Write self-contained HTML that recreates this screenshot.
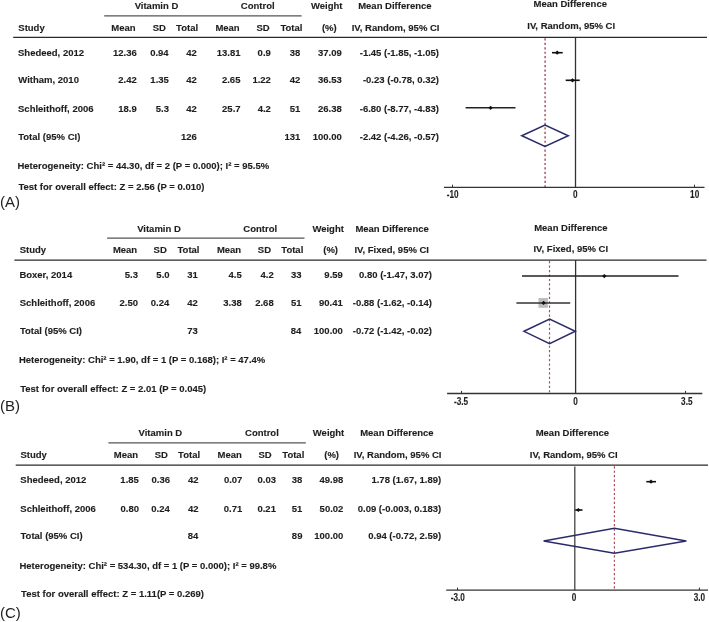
<!DOCTYPE html>
<html><head><meta charset="utf-8"><style>
html,body{margin:0;padding:0;background:#fff;}
body{width:709px;height:622px;overflow:hidden;}
svg{display:block;font-family:"Liberation Sans",sans-serif;will-change:transform;}
text{stroke:currentColor;}
</style></head><body>
<svg width="709" height="622" viewBox="0 0 709 622">
<rect width="709" height="622" fill="#fff"/>
<text x="134.65" y="9.40" text-anchor="start" font-size="9.5" font-weight="bold" fill="#1e1e1e" style="color:#1e1e1e" stroke-width="0.12">Vitamin D</text>
<text x="240.82" y="9.40" text-anchor="start" font-size="9.5" font-weight="bold" fill="#1e1e1e" style="color:#1e1e1e" stroke-width="0.12">Control</text>
<text x="311.00" y="9.40" text-anchor="start" font-size="9.5" font-weight="bold" fill="#1e1e1e" style="color:#1e1e1e" stroke-width="0.12">Weight</text>
<text x="358.18" y="9.40" text-anchor="start" font-size="9.5" font-weight="bold" fill="#1e1e1e" style="color:#1e1e1e" stroke-width="0.12">Mean Difference</text>
<text x="533.58" y="7.10" text-anchor="start" font-size="9.5" font-weight="bold" fill="#1e1e1e" style="color:#1e1e1e" stroke-width="0.12">Mean Difference</text>
<text x="18.32" y="30.70" text-anchor="start" font-size="9.5" font-weight="bold" fill="#1e1e1e" style="color:#1e1e1e" stroke-width="0.12">Study</text>
<text x="111.28" y="30.70" text-anchor="start" font-size="9.5" font-weight="bold" fill="#1e1e1e" style="color:#1e1e1e" stroke-width="0.12">Mean</text>
<text x="152.72" y="30.70" text-anchor="start" font-size="9.5" font-weight="bold" fill="#1e1e1e" style="color:#1e1e1e" stroke-width="0.12">SD</text>
<text x="176.10" y="30.70" text-anchor="start" font-size="9.5" font-weight="bold" fill="#1e1e1e" style="color:#1e1e1e" stroke-width="0.12">Total</text>
<text x="215.38" y="30.70" text-anchor="start" font-size="9.5" font-weight="bold" fill="#1e1e1e" style="color:#1e1e1e" stroke-width="0.12">Mean</text>
<text x="256.51" y="30.70" text-anchor="start" font-size="9.5" font-weight="bold" fill="#1e1e1e" style="color:#1e1e1e" stroke-width="0.12">SD</text>
<text x="280.40" y="30.70" text-anchor="start" font-size="9.5" font-weight="bold" fill="#1e1e1e" style="color:#1e1e1e" stroke-width="0.12">Total</text>
<text x="321.92" y="30.70" text-anchor="start" font-size="9.5" font-weight="bold" fill="#1e1e1e" style="color:#1e1e1e" stroke-width="0.12">(%)</text>
<text x="351.68" y="30.70" text-anchor="start" font-size="9.5" font-weight="bold" fill="#1e1e1e" style="color:#1e1e1e" stroke-width="0.12">IV, Random, 95% CI</text>
<text x="527.28" y="29.30" text-anchor="start" font-size="9.5" font-weight="bold" fill="#1e1e1e" style="color:#1e1e1e" stroke-width="0.12">IV, Random, 95% CI</text>
<line x1="104.2" y1="15.9" x2="301.6" y2="15.9" stroke="#555" stroke-width="1.2"/>
<line x1="13.2" y1="37.3" x2="707.0" y2="37.3" stroke="#2a2a2a" stroke-width="1.3"/>
<text x="18.02" y="55.50" text-anchor="start" font-size="9.5" font-weight="bold" fill="#1e1e1e" style="color:#1e1e1e" stroke-width="0.12">Shedeed, 2012</text>
<text x="136.76" y="55.50" text-anchor="end" font-size="9.5" font-weight="bold" fill="#1e1e1e" style="color:#1e1e1e" stroke-width="0.12">12.36</text>
<text x="168.66" y="55.50" text-anchor="end" font-size="9.5" font-weight="bold" fill="#1e1e1e" style="color:#1e1e1e" stroke-width="0.12">0.94</text>
<text x="196.80" y="55.50" text-anchor="end" font-size="9.5" font-weight="bold" fill="#1e1e1e" style="color:#1e1e1e" stroke-width="0.12">42</text>
<text x="240.46" y="55.50" text-anchor="end" font-size="9.5" font-weight="bold" fill="#1e1e1e" style="color:#1e1e1e" stroke-width="0.12">13.81</text>
<text x="270.83" y="55.50" text-anchor="end" font-size="9.5" font-weight="bold" fill="#1e1e1e" style="color:#1e1e1e" stroke-width="0.12">0.9</text>
<text x="300.31" y="55.50" text-anchor="end" font-size="9.5" font-weight="bold" fill="#1e1e1e" style="color:#1e1e1e" stroke-width="0.12">38</text>
<text x="341.76" y="55.50" text-anchor="end" font-size="9.5" font-weight="bold" fill="#1e1e1e" style="color:#1e1e1e" stroke-width="0.12">37.09</text>
<text x="438.95" y="55.50" text-anchor="end" font-size="9.5" font-weight="bold" fill="#1e1e1e" style="color:#1e1e1e" stroke-width="0.12">-1.45 (-1.85, -1.05)</text>
<text x="18.30" y="83.30" text-anchor="start" font-size="9.5" font-weight="bold" fill="#1e1e1e" style="color:#1e1e1e" stroke-width="0.12">Witham, 2010</text>
<text x="136.79" y="83.30" text-anchor="end" font-size="9.5" font-weight="bold" fill="#1e1e1e" style="color:#1e1e1e" stroke-width="0.12">2.42</text>
<text x="168.85" y="83.30" text-anchor="end" font-size="9.5" font-weight="bold" fill="#1e1e1e" style="color:#1e1e1e" stroke-width="0.12">1.35</text>
<text x="196.80" y="83.30" text-anchor="end" font-size="9.5" font-weight="bold" fill="#1e1e1e" style="color:#1e1e1e" stroke-width="0.12">42</text>
<text x="240.45" y="83.30" text-anchor="end" font-size="9.5" font-weight="bold" fill="#1e1e1e" style="color:#1e1e1e" stroke-width="0.12">2.65</text>
<text x="270.89" y="83.30" text-anchor="end" font-size="9.5" font-weight="bold" fill="#1e1e1e" style="color:#1e1e1e" stroke-width="0.12">1.22</text>
<text x="300.40" y="83.30" text-anchor="end" font-size="9.5" font-weight="bold" fill="#1e1e1e" style="color:#1e1e1e" stroke-width="0.12">42</text>
<text x="341.76" y="83.30" text-anchor="end" font-size="9.5" font-weight="bold" fill="#1e1e1e" style="color:#1e1e1e" stroke-width="0.12">36.53</text>
<text x="438.97" y="83.30" text-anchor="end" font-size="9.5" font-weight="bold" fill="#1e1e1e" style="color:#1e1e1e" stroke-width="0.12">-0.23 (-0.78, 0.32)</text>
<text x="18.02" y="111.70" text-anchor="start" font-size="9.5" font-weight="bold" fill="#1e1e1e" style="color:#1e1e1e" stroke-width="0.12">Schleithoff, 2006</text>
<text x="136.75" y="111.70" text-anchor="end" font-size="9.5" font-weight="bold" fill="#1e1e1e" style="color:#1e1e1e" stroke-width="0.12">18.9</text>
<text x="168.93" y="111.70" text-anchor="end" font-size="9.5" font-weight="bold" fill="#1e1e1e" style="color:#1e1e1e" stroke-width="0.12">5.3</text>
<text x="196.80" y="111.70" text-anchor="end" font-size="9.5" font-weight="bold" fill="#1e1e1e" style="color:#1e1e1e" stroke-width="0.12">42</text>
<text x="240.59" y="111.70" text-anchor="end" font-size="9.5" font-weight="bold" fill="#1e1e1e" style="color:#1e1e1e" stroke-width="0.12">25.7</text>
<text x="270.88" y="111.70" text-anchor="end" font-size="9.5" font-weight="bold" fill="#1e1e1e" style="color:#1e1e1e" stroke-width="0.12">4.2</text>
<text x="300.26" y="111.70" text-anchor="end" font-size="9.5" font-weight="bold" fill="#1e1e1e" style="color:#1e1e1e" stroke-width="0.12">51</text>
<text x="341.71" y="111.70" text-anchor="end" font-size="9.5" font-weight="bold" fill="#1e1e1e" style="color:#1e1e1e" stroke-width="0.12">26.38</text>
<text x="438.95" y="111.70" text-anchor="end" font-size="9.5" font-weight="bold" fill="#1e1e1e" style="color:#1e1e1e" stroke-width="0.12">-6.80 (-8.77, -4.83)</text>
<text x="18.21" y="140.20" text-anchor="start" font-size="9.5" font-weight="bold" fill="#1e1e1e" style="color:#1e1e1e" stroke-width="0.12">Total (95% CI)</text>
<text x="196.77" y="140.20" text-anchor="end" font-size="9.5" font-weight="bold" fill="#1e1e1e" style="color:#1e1e1e" stroke-width="0.12">126</text>
<text x="300.27" y="140.20" text-anchor="end" font-size="9.5" font-weight="bold" fill="#1e1e1e" style="color:#1e1e1e" stroke-width="0.12">131</text>
<text x="341.77" y="140.20" text-anchor="end" font-size="9.5" font-weight="bold" fill="#1e1e1e" style="color:#1e1e1e" stroke-width="0.12">100.00</text>
<text x="438.95" y="140.20" text-anchor="end" font-size="9.5" font-weight="bold" fill="#1e1e1e" style="color:#1e1e1e" stroke-width="0.12">-2.42 (-4.26, -0.57)</text>
<text x="17.48" y="168.60" text-anchor="start" font-size="9.5" font-weight="bold" fill="#1e1e1e" style="color:#1e1e1e" stroke-width="0.12">Heterogeneity: Chi² = 44.30, df = 2 (P = 0.000); I² = 95.5%</text>
<text x="18.41" y="189.90" text-anchor="start" font-size="9.5" font-weight="bold" fill="#1e1e1e" style="color:#1e1e1e" stroke-width="0.12">Test for overall effect: Z = 2.56 (P = 0.010)</text>
<text x="0.10" y="206.60" text-anchor="start" font-size="15" font-weight="normal" fill="#222" style="color:#222" stroke-width="0">(A)</text>
<line x1="575.5" y1="37.3" x2="575.5" y2="187.3" stroke="#333" stroke-width="1.3"/>
<line x1="545.1" y1="38.3" x2="545.1" y2="187.3" stroke="#a24c5c" stroke-width="1.4" stroke-dasharray="2.2,2.25"/>
<line x1="443.9" y1="187.3" x2="704.5" y2="187.3" stroke="#333" stroke-width="1.3"/>
<line x1="452.5" y1="187.3" x2="452.5" y2="184.70000000000002" stroke="#333" stroke-width="1"/>
<line x1="694.5" y1="187.3" x2="694.5" y2="184.70000000000002" stroke="#333" stroke-width="1"/>
<text transform="translate(446.67,198.30) scale(0.82,1)" text-anchor="start" font-size="10" font-weight="bold" fill="#1e1e1e" style="color:#1e1e1e" stroke-width="0.12">-10</text>
<text transform="translate(573.07,198.30) scale(0.82,1)" text-anchor="start" font-size="10" font-weight="bold" fill="#1e1e1e" style="color:#1e1e1e" stroke-width="0.12">0</text>
<text transform="translate(690.11,198.30) scale(0.82,1)" text-anchor="start" font-size="10" font-weight="bold" fill="#1e1e1e" style="color:#1e1e1e" stroke-width="0.12">10</text>
<line x1="552.0" y1="52.7" x2="562.7" y2="52.7" stroke="#111" stroke-width="1.6"/>
<polygon points="555.0,52.7 557.2,50.6 559.4000000000001,52.7 557.2,54.800000000000004" fill="#111"/>
<line x1="565.7" y1="80.3" x2="579.7" y2="80.3" stroke="#111" stroke-width="1.6"/>
<polygon points="570.3,80.3 572.5,78.2 574.7,80.3 572.5,82.39999999999999" fill="#111"/>
<line x1="465.6" y1="107.8" x2="515.5" y2="107.8" stroke="#222" stroke-width="1.5"/>
<polygon points="488.40000000000003,107.8 490.6,105.7 492.8,107.8 490.6,109.89999999999999" fill="#111"/>
<polygon points="521.8,135.8 545.0,125.1 568.3,135.8 545.0,146.4" fill="none" stroke="#2b2b6b" stroke-width="1.5"/>
<text x="137.15" y="231.50" text-anchor="start" font-size="9.5" font-weight="bold" fill="#1e1e1e" style="color:#1e1e1e" stroke-width="0.12">Vitamin D</text>
<text x="243.32" y="231.50" text-anchor="start" font-size="9.5" font-weight="bold" fill="#1e1e1e" style="color:#1e1e1e" stroke-width="0.12">Control</text>
<text x="312.40" y="231.50" text-anchor="start" font-size="9.5" font-weight="bold" fill="#1e1e1e" style="color:#1e1e1e" stroke-width="0.12">Weight</text>
<text x="355.38" y="231.50" text-anchor="start" font-size="9.5" font-weight="bold" fill="#1e1e1e" style="color:#1e1e1e" stroke-width="0.12">Mean Difference</text>
<text x="534.18" y="230.60" text-anchor="start" font-size="9.5" font-weight="bold" fill="#1e1e1e" style="color:#1e1e1e" stroke-width="0.12">Mean Difference</text>
<text x="19.71" y="253.30" text-anchor="start" font-size="9.5" font-weight="bold" fill="#1e1e1e" style="color:#1e1e1e" stroke-width="0.12">Study</text>
<text x="112.88" y="253.30" text-anchor="start" font-size="9.5" font-weight="bold" fill="#1e1e1e" style="color:#1e1e1e" stroke-width="0.12">Mean</text>
<text x="153.62" y="253.30" text-anchor="start" font-size="9.5" font-weight="bold" fill="#1e1e1e" style="color:#1e1e1e" stroke-width="0.12">SD</text>
<text x="177.50" y="253.30" text-anchor="start" font-size="9.5" font-weight="bold" fill="#1e1e1e" style="color:#1e1e1e" stroke-width="0.12">Total</text>
<text x="216.88" y="253.30" text-anchor="start" font-size="9.5" font-weight="bold" fill="#1e1e1e" style="color:#1e1e1e" stroke-width="0.12">Mean</text>
<text x="257.81" y="253.30" text-anchor="start" font-size="9.5" font-weight="bold" fill="#1e1e1e" style="color:#1e1e1e" stroke-width="0.12">SD</text>
<text x="281.30" y="253.30" text-anchor="start" font-size="9.5" font-weight="bold" fill="#1e1e1e" style="color:#1e1e1e" stroke-width="0.12">Total</text>
<text x="323.22" y="253.30" text-anchor="start" font-size="9.5" font-weight="bold" fill="#1e1e1e" style="color:#1e1e1e" stroke-width="0.12">(%)</text>
<text x="354.38" y="253.30" text-anchor="start" font-size="9.5" font-weight="bold" fill="#1e1e1e" style="color:#1e1e1e" stroke-width="0.12">IV, Fixed, 95% CI</text>
<text x="533.48" y="252.40" text-anchor="start" font-size="9.5" font-weight="bold" fill="#1e1e1e" style="color:#1e1e1e" stroke-width="0.12">IV, Fixed, 95% CI</text>
<line x1="107.1" y1="238.1" x2="304.5" y2="238.1" stroke="#555" stroke-width="1.2"/>
<line x1="14.4" y1="260.1" x2="706.5" y2="260.1" stroke="#2a2a2a" stroke-width="1.3"/>
<text x="19.38" y="277.70" text-anchor="start" font-size="9.5" font-weight="bold" fill="#1e1e1e" style="color:#1e1e1e" stroke-width="0.12">Boxer, 2014</text>
<text x="137.93" y="277.70" text-anchor="end" font-size="9.5" font-weight="bold" fill="#1e1e1e" style="color:#1e1e1e" stroke-width="0.12">5.3</text>
<text x="169.58" y="277.70" text-anchor="end" font-size="9.5" font-weight="bold" fill="#1e1e1e" style="color:#1e1e1e" stroke-width="0.12">5.0</text>
<text x="197.76" y="277.70" text-anchor="end" font-size="9.5" font-weight="bold" fill="#1e1e1e" style="color:#1e1e1e" stroke-width="0.12">31</text>
<text x="241.74" y="277.70" text-anchor="end" font-size="9.5" font-weight="bold" fill="#1e1e1e" style="color:#1e1e1e" stroke-width="0.12">4.5</text>
<text x="273.78" y="277.70" text-anchor="end" font-size="9.5" font-weight="bold" fill="#1e1e1e" style="color:#1e1e1e" stroke-width="0.12">4.2</text>
<text x="301.65" y="277.70" text-anchor="end" font-size="9.5" font-weight="bold" fill="#1e1e1e" style="color:#1e1e1e" stroke-width="0.12">33</text>
<text x="342.85" y="277.70" text-anchor="end" font-size="9.5" font-weight="bold" fill="#1e1e1e" style="color:#1e1e1e" stroke-width="0.12">9.59</text>
<text x="431.94" y="277.70" text-anchor="end" font-size="9.5" font-weight="bold" fill="#1e1e1e" style="color:#1e1e1e" stroke-width="0.12">0.80 (-1.47, 3.07)</text>
<text x="19.71" y="306.40" text-anchor="start" font-size="9.5" font-weight="bold" fill="#1e1e1e" style="color:#1e1e1e" stroke-width="0.12">Schleithoff, 2006</text>
<text x="137.99" y="306.40" text-anchor="end" font-size="9.5" font-weight="bold" fill="#1e1e1e" style="color:#1e1e1e" stroke-width="0.12">2.50</text>
<text x="169.26" y="306.40" text-anchor="end" font-size="9.5" font-weight="bold" fill="#1e1e1e" style="color:#1e1e1e" stroke-width="0.12">0.24</text>
<text x="197.90" y="306.40" text-anchor="end" font-size="9.5" font-weight="bold" fill="#1e1e1e" style="color:#1e1e1e" stroke-width="0.12">42</text>
<text x="241.80" y="306.40" text-anchor="end" font-size="9.5" font-weight="bold" fill="#1e1e1e" style="color:#1e1e1e" stroke-width="0.12">3.38</text>
<text x="273.70" y="306.40" text-anchor="end" font-size="9.5" font-weight="bold" fill="#1e1e1e" style="color:#1e1e1e" stroke-width="0.12">2.68</text>
<text x="301.56" y="306.40" text-anchor="end" font-size="9.5" font-weight="bold" fill="#1e1e1e" style="color:#1e1e1e" stroke-width="0.12">51</text>
<text x="342.76" y="306.40" text-anchor="end" font-size="9.5" font-weight="bold" fill="#1e1e1e" style="color:#1e1e1e" stroke-width="0.12">90.41</text>
<text x="431.95" y="306.40" text-anchor="end" font-size="9.5" font-weight="bold" fill="#1e1e1e" style="color:#1e1e1e" stroke-width="0.12">-0.88 (-1.62, -0.14)</text>
<text x="19.91" y="334.20" text-anchor="start" font-size="9.5" font-weight="bold" fill="#1e1e1e" style="color:#1e1e1e" stroke-width="0.12">Total (95% CI)</text>
<text x="197.85" y="334.20" text-anchor="end" font-size="9.5" font-weight="bold" fill="#1e1e1e" style="color:#1e1e1e" stroke-width="0.12">73</text>
<text x="301.37" y="334.20" text-anchor="end" font-size="9.5" font-weight="bold" fill="#1e1e1e" style="color:#1e1e1e" stroke-width="0.12">84</text>
<text x="342.87" y="334.20" text-anchor="end" font-size="9.5" font-weight="bold" fill="#1e1e1e" style="color:#1e1e1e" stroke-width="0.12">100.00</text>
<text x="431.95" y="334.20" text-anchor="end" font-size="9.5" font-weight="bold" fill="#1e1e1e" style="color:#1e1e1e" stroke-width="0.12">-0.72 (-1.42, -0.02)</text>
<text x="18.88" y="362.90" text-anchor="start" font-size="9.5" font-weight="bold" fill="#1e1e1e" style="color:#1e1e1e" stroke-width="0.12">Heterogeneity: Chi² = 1.90, df = 1 (P = 0.168); I² = 47.4%</text>
<text x="20.21" y="391.80" text-anchor="start" font-size="9.5" font-weight="bold" fill="#1e1e1e" style="color:#1e1e1e" stroke-width="0.12">Test for overall effect: Z = 2.01 (P = 0.045)</text>
<text x="0.10" y="410.50" text-anchor="start" font-size="15" font-weight="normal" fill="#222" style="color:#222" stroke-width="0">(B)</text>
<line x1="575.6" y1="260.1" x2="575.6" y2="393.5" stroke="#333" stroke-width="1.3"/>
<line x1="549.5" y1="261.1" x2="549.5" y2="393.5" stroke="#b04a5c" stroke-width="1.2" stroke-dasharray="2.2,2.25"/>
<line x1="447.1" y1="393.5" x2="702.3" y2="393.5" stroke="#333" stroke-width="1.3"/>
<line x1="461.5" y1="393.5" x2="461.5" y2="390.9" stroke="#333" stroke-width="1"/>
<line x1="685.5" y1="393.5" x2="685.5" y2="390.9" stroke="#333" stroke-width="1"/>
<text transform="translate(454.07,404.60) scale(0.82,1)" text-anchor="start" font-size="10" font-weight="bold" fill="#1e1e1e" style="color:#1e1e1e" stroke-width="0.12">-3.5</text>
<text transform="translate(573.37,404.60) scale(0.82,1)" text-anchor="start" font-size="10" font-weight="bold" fill="#1e1e1e" style="color:#1e1e1e" stroke-width="0.12">0</text>
<text transform="translate(681.09,404.60) scale(0.82,1)" text-anchor="start" font-size="10" font-weight="bold" fill="#1e1e1e" style="color:#1e1e1e" stroke-width="0.12">3.5</text>
<line x1="522.0" y1="276.1" x2="678.5" y2="276.1" stroke="#222" stroke-width="1.5"/>
<polygon points="602.0999999999999,276.1 604.3,274.0 606.5,276.1 604.3,278.20000000000005" fill="#111"/>
<rect x="538.5" y="298.0" width="9.4" height="9.8" fill="#bdbdbd"/>
<line x1="516.4" y1="302.9" x2="570.2" y2="302.9" stroke="#333" stroke-width="1.5"/>
<polygon points="541.4,302.9 543.6,300.79999999999995 545.8000000000001,302.9 543.6,305.0" fill="#111"/>
<polygon points="524.0,331.3 549.6,319.0 575.3,331.3 549.6,343.7" fill="none" stroke="#2b2b6b" stroke-width="1.5"/>
<text x="138.55" y="436.40" text-anchor="start" font-size="9.5" font-weight="bold" fill="#1e1e1e" style="color:#1e1e1e" stroke-width="0.12">Vitamin D</text>
<text x="245.02" y="436.40" text-anchor="start" font-size="9.5" font-weight="bold" fill="#1e1e1e" style="color:#1e1e1e" stroke-width="0.12">Control</text>
<text x="312.80" y="436.40" text-anchor="start" font-size="9.5" font-weight="bold" fill="#1e1e1e" style="color:#1e1e1e" stroke-width="0.12">Weight</text>
<text x="360.18" y="436.40" text-anchor="start" font-size="9.5" font-weight="bold" fill="#1e1e1e" style="color:#1e1e1e" stroke-width="0.12">Mean Difference</text>
<text x="535.68" y="436.20" text-anchor="start" font-size="9.5" font-weight="bold" fill="#1e1e1e" style="color:#1e1e1e" stroke-width="0.12">Mean Difference</text>
<text x="20.41" y="458.00" text-anchor="start" font-size="9.5" font-weight="bold" fill="#1e1e1e" style="color:#1e1e1e" stroke-width="0.12">Study</text>
<text x="113.78" y="458.00" text-anchor="start" font-size="9.5" font-weight="bold" fill="#1e1e1e" style="color:#1e1e1e" stroke-width="0.12">Mean</text>
<text x="154.72" y="458.00" text-anchor="start" font-size="9.5" font-weight="bold" fill="#1e1e1e" style="color:#1e1e1e" stroke-width="0.12">SD</text>
<text x="178.10" y="458.00" text-anchor="start" font-size="9.5" font-weight="bold" fill="#1e1e1e" style="color:#1e1e1e" stroke-width="0.12">Total</text>
<text x="217.48" y="458.00" text-anchor="start" font-size="9.5" font-weight="bold" fill="#1e1e1e" style="color:#1e1e1e" stroke-width="0.12">Mean</text>
<text x="258.41" y="458.00" text-anchor="start" font-size="9.5" font-weight="bold" fill="#1e1e1e" style="color:#1e1e1e" stroke-width="0.12">SD</text>
<text x="282.30" y="458.00" text-anchor="start" font-size="9.5" font-weight="bold" fill="#1e1e1e" style="color:#1e1e1e" stroke-width="0.12">Total</text>
<text x="324.22" y="458.00" text-anchor="start" font-size="9.5" font-weight="bold" fill="#1e1e1e" style="color:#1e1e1e" stroke-width="0.12">(%)</text>
<text x="353.68" y="458.00" text-anchor="start" font-size="9.5" font-weight="bold" fill="#1e1e1e" style="color:#1e1e1e" stroke-width="0.12">IV, Random, 95% CI</text>
<text x="529.78" y="458.30" text-anchor="start" font-size="9.5" font-weight="bold" fill="#1e1e1e" style="color:#1e1e1e" stroke-width="0.12">IV, Random, 95% CI</text>
<line x1="108.4" y1="442.8" x2="305.8" y2="442.8" stroke="#555" stroke-width="1.2"/>
<line x1="15.7" y1="465.2" x2="708.0" y2="465.2" stroke="#2a2a2a" stroke-width="1.3"/>
<text x="20.32" y="483.20" text-anchor="start" font-size="9.5" font-weight="bold" fill="#1e1e1e" style="color:#1e1e1e" stroke-width="0.12">Shedeed, 2012</text>
<text x="138.85" y="483.20" text-anchor="end" font-size="9.5" font-weight="bold" fill="#1e1e1e" style="color:#1e1e1e" stroke-width="0.12">1.85</text>
<text x="170.05" y="483.20" text-anchor="end" font-size="9.5" font-weight="bold" fill="#1e1e1e" style="color:#1e1e1e" stroke-width="0.12">0.36</text>
<text x="198.60" y="483.20" text-anchor="end" font-size="9.5" font-weight="bold" fill="#1e1e1e" style="color:#1e1e1e" stroke-width="0.12">42</text>
<text x="242.39" y="483.20" text-anchor="end" font-size="9.5" font-weight="bold" fill="#1e1e1e" style="color:#1e1e1e" stroke-width="0.12">0.07</text>
<text x="276.05" y="483.20" text-anchor="end" font-size="9.5" font-weight="bold" fill="#1e1e1e" style="color:#1e1e1e" stroke-width="0.12">0.03</text>
<text x="302.41" y="483.20" text-anchor="end" font-size="9.5" font-weight="bold" fill="#1e1e1e" style="color:#1e1e1e" stroke-width="0.12">38</text>
<text x="343.31" y="483.20" text-anchor="end" font-size="9.5" font-weight="bold" fill="#1e1e1e" style="color:#1e1e1e" stroke-width="0.12">49.98</text>
<text x="441.16" y="483.20" text-anchor="end" font-size="9.5" font-weight="bold" fill="#1e1e1e" style="color:#1e1e1e" stroke-width="0.12">1.78 (1.67, 1.89)</text>
<text x="20.32" y="511.50" text-anchor="start" font-size="9.5" font-weight="bold" fill="#1e1e1e" style="color:#1e1e1e" stroke-width="0.12">Schleithoff, 2006</text>
<text x="138.99" y="511.50" text-anchor="end" font-size="9.5" font-weight="bold" fill="#1e1e1e" style="color:#1e1e1e" stroke-width="0.12">0.80</text>
<text x="169.76" y="511.50" text-anchor="end" font-size="9.5" font-weight="bold" fill="#1e1e1e" style="color:#1e1e1e" stroke-width="0.12">0.24</text>
<text x="198.60" y="511.50" text-anchor="end" font-size="9.5" font-weight="bold" fill="#1e1e1e" style="color:#1e1e1e" stroke-width="0.12">42</text>
<text x="242.25" y="511.50" text-anchor="end" font-size="9.5" font-weight="bold" fill="#1e1e1e" style="color:#1e1e1e" stroke-width="0.12">0.71</text>
<text x="275.95" y="511.50" text-anchor="end" font-size="9.5" font-weight="bold" fill="#1e1e1e" style="color:#1e1e1e" stroke-width="0.12">0.21</text>
<text x="302.36" y="511.50" text-anchor="end" font-size="9.5" font-weight="bold" fill="#1e1e1e" style="color:#1e1e1e" stroke-width="0.12">51</text>
<text x="343.40" y="511.50" text-anchor="end" font-size="9.5" font-weight="bold" fill="#1e1e1e" style="color:#1e1e1e" stroke-width="0.12">50.02</text>
<text x="441.16" y="511.50" text-anchor="end" font-size="9.5" font-weight="bold" fill="#1e1e1e" style="color:#1e1e1e" stroke-width="0.12">0.09 (-0.003, 0.183)</text>
<text x="20.51" y="539.30" text-anchor="start" font-size="9.5" font-weight="bold" fill="#1e1e1e" style="color:#1e1e1e" stroke-width="0.12">Total (95% CI)</text>
<text x="198.27" y="539.30" text-anchor="end" font-size="9.5" font-weight="bold" fill="#1e1e1e" style="color:#1e1e1e" stroke-width="0.12">84</text>
<text x="302.45" y="539.30" text-anchor="end" font-size="9.5" font-weight="bold" fill="#1e1e1e" style="color:#1e1e1e" stroke-width="0.12">89</text>
<text x="343.37" y="539.30" text-anchor="end" font-size="9.5" font-weight="bold" fill="#1e1e1e" style="color:#1e1e1e" stroke-width="0.12">100.00</text>
<text x="441.14" y="539.30" text-anchor="end" font-size="9.5" font-weight="bold" fill="#1e1e1e" style="color:#1e1e1e" stroke-width="0.12">0.94 (-0.72, 2.59)</text>
<text x="19.38" y="569.00" text-anchor="start" font-size="9.5" font-weight="bold" fill="#1e1e1e" style="color:#1e1e1e" stroke-width="0.12">Heterogeneity: Chi² = 534.30, df = 1 (P = 0.000); I² = 99.8%</text>
<text x="21.11" y="597.20" text-anchor="start" font-size="9.5" font-weight="bold" fill="#1e1e1e" style="color:#1e1e1e" stroke-width="0.12">Test for overall effect: Z = 1.11(P = 0.269)</text>
<text x="0.00" y="618.40" text-anchor="start" font-size="15" font-weight="normal" fill="#222" style="color:#222" stroke-width="0">(C)</text>
<line x1="574.8" y1="466.4" x2="574.8" y2="590.2" stroke="#444" stroke-width="1.3"/>
<line x1="614.4" y1="466.2" x2="614.4" y2="590.2" stroke="#b04a5c" stroke-width="1.2" stroke-dasharray="2.2,2.25"/>
<line x1="446.2" y1="590.2" x2="708.0" y2="590.2" stroke="#333" stroke-width="1.3"/>
<line x1="457.5" y1="590.2" x2="457.5" y2="587.6" stroke="#333" stroke-width="1"/>
<line x1="699.4" y1="590.2" x2="699.4" y2="587.6" stroke="#333" stroke-width="1"/>
<text transform="translate(450.67,600.80) scale(0.82,1)" text-anchor="start" font-size="10" font-weight="bold" fill="#1e1e1e" style="color:#1e1e1e" stroke-width="0.12">-3.0</text>
<text transform="translate(571.87,600.80) scale(0.82,1)" text-anchor="start" font-size="10" font-weight="bold" fill="#1e1e1e" style="color:#1e1e1e" stroke-width="0.12">0</text>
<text transform="translate(693.79,600.80) scale(0.82,1)" text-anchor="start" font-size="10" font-weight="bold" fill="#1e1e1e" style="color:#1e1e1e" stroke-width="0.12">3.0</text>
<line x1="646.3" y1="481.7" x2="656.0" y2="481.7" stroke="#111" stroke-width="1.6"/>
<polygon points="648.8,481.7 651.0,479.59999999999997 653.2,481.7 651.0,483.8" fill="#111"/>
<line x1="575.2" y1="510.0" x2="582.5" y2="510.0" stroke="#111" stroke-width="1.6"/>
<polygon points="576.0999999999999,510.0 578.3,507.9 580.5,510.0 578.3,512.1" fill="#111"/>
<polygon points="543.6,540.9 614.4,528.3 686.3,540.9 614.4,553.3" fill="none" stroke="#2b2b6b" stroke-width="1.5"/>
</svg>
</body></html>
